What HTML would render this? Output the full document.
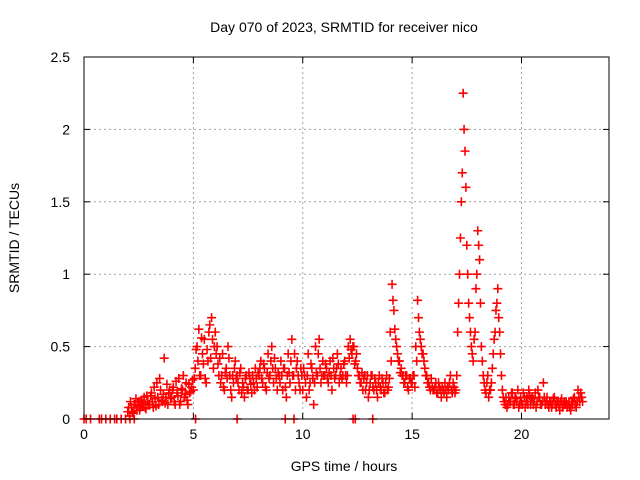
<!DOCTYPE html>
<html><head><meta charset="utf-8"><style>
body{margin:0;background:#fff}
svg{display:block;font-family:"Liberation Sans",sans-serif;font-size:14px}
</style></head><body>
<svg id="chart" width="640" height="480">
<rect width="640" height="480" fill="#fff"/>
<g id="grid"></g>
<g id="pts"></g>
<rect x="84" y="57" width="525" height="362" fill="none" stroke="#000" stroke-width="1"/>
<g id="ticks"></g>
<text x="344" y="32" text-anchor="middle">Day 070 of 2023, SRMTID for receiver nico</text>
<text x="344" y="471" text-anchor="middle">GPS time / hours</text>
<text transform="translate(19,238) rotate(-90)" text-anchor="middle">SRMTID / TECUs</text>
</svg>
<script>
const xTicks=[0,5,10,15,20];
const yTicks=[0,0.5,1,1.5,2,2.5];
const yTickLabels=["0","0.5","1","1.5","2","2.5"];
const startHour=2;
const zeroTimes=[0,0.1,0.3,0.7,0.8,1.0,1.2,1.4,1.5,1.7,1.9,2.1,2.3,5.1,7.0,9.2,9.6,12.3,12.4,13.2];
const values=[
0.05,0.02,0.08,0.04,0.1,0.06,0.12,0.08,0.1,0.15,0.07,0.12,
0.1,0.18,0.08,0.14,0.25,0.1,0.2,0.12,0.42,0.15,0.1,0.2,
0.15,0.22,0.1,0.18,0.28,0.12,0.2,0.15,0.25,0.1,0.18,0.22,
0.2,0.35,0.5,0.62,0.3,0.45,0.55,0.25,0.4,0.65,0.7,0.35,
0.6,0.5,0.3,0.25,0.45,0.2,0.35,0.5,0.3,0.15,0.25,0.4,
0.3,0.2,0.35,0.25,0.15,0.3,0.2,0.28,0.18,0.25,0.35,0.22,
0.3,0.4,0.25,0.35,0.2,0.45,0.3,0.5,0.25,0.35,0.2,0.3,
0.4,0.2,0.35,0.15,0.45,0.25,0.55,0.3,0.2,0.4,0.25,0.35,
0.2,0.3,0.15,0.45,0.25,0.35,0.1,0.5,0.3,0.55,0.25,0.4,
0.3,0.35,0.25,0.4,0.2,0.35,0.3,0.45,0.25,0.35,0.3,0.4,
0.25,0.5,0.55,0.45,0.5,0.4,0.35,0.3,0.25,0.2,0.3,0.25,
0.15,0.25,0.3,0.2,0.25,0.15,0.3,0.2,0.25,0.18,0.3,0.22,
0.6,0.93,0.75,0.55,0.45,0.4,0.35,0.3,0.25,0.3,0.2,0.28,
0.25,0.3,0.5,0.82,0.6,0.5,0.45,0.35,0.3,0.25,0.2,0.22,
0.2,0.25,0.18,0.22,0.15,0.2,0.25,0.15,0.2,0.3,0.18,0.22,
0.2,0.6,1.0,1.5,2.25,1.85,1.2,0.8,0.6,0.45,0.55,0.9,
1.3,1.1,0.5,0.3,0.2,0.25,0.15,0.2,0.35,0.55,0.75,0.9,
0.6,0.3,0.15,0.1,0.08,0.15,0.12,0.18,0.1,0.14,0.2,0.1,
0.12,0.18,0.08,0.15,0.2,0.1,0.15,0.12,0.08,0.2,0.15,0.1,
0.25,0.1,0.15,0.08,0.12,0.1,0.15,0.08,0.12,0.06,0.14,0.1,
0.1,0.08,0.12,0.06,0.1,0.15,0.08,0.2,0.12,0.15];
const values2=[
0.08,0.12,0.05,0.1,0.14,0.09,0.06,0.13,0.11,0.08,0.16,0.1,
0.16,0.12,0.22,0.09,0.15,0.28,0.13,0.17,0.11,0.24,0.18,0.14,
0.2,0.12,0.26,0.16,0.1,0.21,0.3,0.17,0.13,0.24,0.19,0.27,
0.28,0.48,0.4,0.3,0.56,0.38,0.28,0.48,0.6,0.42,0.55,0.5,
0.45,0.38,0.42,0.3,0.22,0.32,0.28,0.42,0.2,0.3,0.35,0.28,
0.25,0.32,0.18,0.22,0.28,0.2,0.32,0.24,0.3,0.2,0.28,0.32,
0.35,0.28,0.38,0.22,0.32,0.28,0.4,0.35,0.42,0.28,0.32,0.25,
0.3,0.35,0.22,0.3,0.32,0.4,0.3,0.45,0.35,0.3,0.2,0.3,
0.35,0.25,0.3,0.2,0.38,0.28,0.25,0.32,0.45,0.35,0.3,0.3,
0.38,0.28,0.32,0.3,0.42,0.28,0.35,0.38,0.3,0.28,0.38,0.3,
0.3,0.42,0.48,0.5,0.38,0.45,0.3,0.25,0.32,0.28,0.2,0.3,
0.2,0.3,0.22,0.28,0.2,0.25,0.22,0.28,0.18,0.25,0.2,0.28,
0.4,0.82,0.62,0.5,0.4,0.32,0.3,0.25,0.3,0.22,0.28,0.25,
0.3,0.22,0.4,0.7,0.55,0.45,0.4,0.3,0.25,0.22,0.28,0.2,
0.22,0.18,0.25,0.2,0.22,0.18,0.2,0.22,0.25,0.2,0.25,0.18,
0.3,0.8,1.25,1.7,2.0,1.6,1.0,0.7,0.5,0.4,0.6,1.0,
1.2,0.8,0.4,0.25,0.18,0.3,0.2,0.25,0.45,0.6,0.8,0.7,
0.45,0.2,0.12,0.15,0.1,0.12,0.18,0.1,0.15,0.12,0.08,0.15,
0.1,0.15,0.12,0.1,0.16,0.14,0.1,0.18,0.12,0.15,0.1,0.12,
0.15,0.12,0.1,0.12,0.08,0.14,0.1,0.12,0.1,0.12,0.08,0.12,
0.12,0.1,0.08,0.12,0.14,0.1,0.12,0.15,0.18,0.12];
const L=84,R=609,T=57,B=419,XMAX=24,YMAX=2.5;
const xs=t=>L+t/XMAX*(R-L);
const ys=v=>B-v/YMAX*(B-T);
const NS='http://www.w3.org/2000/svg';
function mk(tag,attrs,parent){const e=document.createElementNS(NS,tag);for(const k in attrs)e.setAttribute(k,attrs[k]);parent.appendChild(e);return e;}
const grid=document.getElementById('grid'),ticks=document.getElementById('ticks'),pts=document.getElementById('pts');
xTicks.forEach(t=>{
  const x=xs(t);
  if(t>0){const g=mk('line',{x1:x,x2:x,y1:T,y2:B,stroke:'#a0a0a0','stroke-dasharray':'2,3'},grid);
  
  }
  mk('line',{x1:x,x2:x,y1:B,y2:B-6,stroke:'#000'},ticks);
  mk('line',{x1:x,x2:x,y1:T,y2:T+6,stroke:'#000'},ticks);
  const lb=mk('text',{x:x,y:B+20,'text-anchor':'middle'},ticks);lb.textContent=t;
  
  
});
yTicks.forEach((v,i)=>{
  const y=ys(v);
  if(v>0&&v<YMAX){const g=mk('line',{x1:L,x2:R,y1:y,y2:y,stroke:'#a0a0a0','stroke-dasharray':'2,3'},grid);
  
  }
  mk('line',{x1:L,x2:L+6,y1:y,y2:y,stroke:'#000'},ticks);
  mk('line',{x1:R,x2:R-6,y1:y,y2:y,stroke:'#000'},ticks);
  const lb=mk('text',{x:L-14,y:y+5,'text-anchor':'end'},ticks);lb.textContent=yTickLabels[i];
  
  
});
function plus(t,v,col){
  const x=xs(t),y=ys(v);
  const p=mk('path',{d:`M${x-4.5},${y}h9M${x},${y-4.5}v9`,stroke:col,'stroke-width':1.6,fill:'none'},pts);
  
  
}
zeroTimes.forEach(t=>plus(t,0,'#f00'));
values.forEach((v,i)=>plus(startHour+i/12,v,'#f00'));
values2.forEach((v,i)=>plus(startHour+i/12+1/24,v,'#f00'));
</script>
</body></html>
